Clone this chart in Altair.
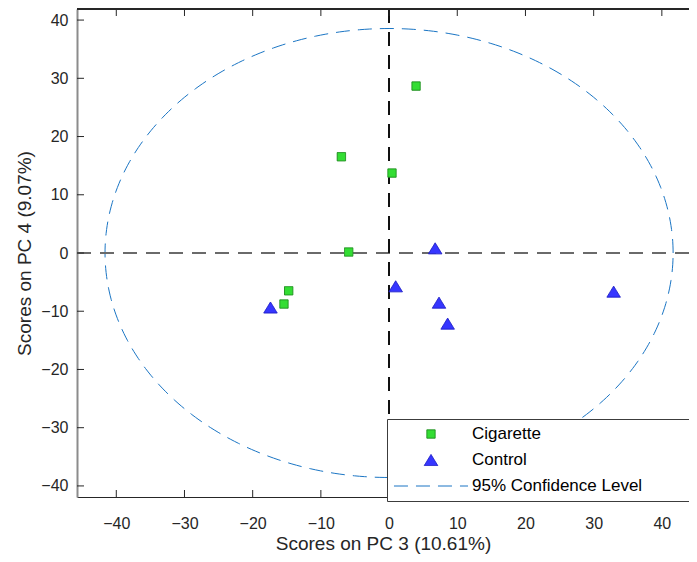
import altair as alt
import numpy as np
import pandas as pd

# ---------------- data ----------------
series_names = ["Cigarette", "Control", "95% Confidence Level"]
cig_pc3 = [3.96, -6.99, 0.43, -5.92, -14.72, -15.41]
cig_pc4 = [28.67, 16.53, 13.73, 0.17, -6.49, -8.76]
ctl_pc3 = [-17.39, 0.97, 6.76, 7.32, 8.59, 32.93]
ctl_pc4 = [-9.36, -5.72, 0.80, -8.53, -12.13, -6.64]
ci_semi_pc3 = 41.65   # semi-axis of the 95% confidence ellipse along PC 3
ci_semi_pc4 = 38.55   # semi-axis along PC 4
tick_values = [-40, -30, -20, -10, 0, 10, 20, 30, 40]
x_title = "Scores on PC 3 (10.61%)"
y_title = "Scores on PC 4 (9.07%)"

# ---------------- layout / style ----------------
W, H = 612, 488
FONT = "Liberation Sans"
TXT = "#262626"
ELL_COLOR = "#1a75c4"

pts = pd.DataFrame({
    "pc3": cig_pc3 + ctl_pc3,
    "pc4": cig_pc4 + ctl_pc4,
    "series": ["Cigarette"] * len(cig_pc3) + ["Control"] * len(ctl_pc3),
})
theta = np.linspace(0, 2 * np.pi, 361)
ell = pd.DataFrame({
    "i": np.arange(len(theta)),
    "pc3": ci_semi_pc3 * np.cos(theta),
    "pc4": ci_semi_pc4 * np.sin(theta),
})
ticks_df = pd.DataFrame({"t": tick_values})

xscale = alt.Scale(domain=[-45.76, 43.98], nice=False, zero=False)
yscale = alt.Scale(domain=[-41.9, 41.9], nice=False, zero=False)

tri_path = "M0,-1.32L1.61,1.32L-1.61,1.32Z"
line_path = "M-8.85,0L8.85,0"

legend = alt.Legend(
    orient="none", legendX=310, legendY=410, direction="vertical",
    # an invisible zero-width title on the right only widens the legend box,
    # as the reference's box runs on past the right edge of the figure
    title="\u200b", titleOrient="right", titlePadding=70, titleColor="transparent",
    padding=6, fillColor="white", strokeColor="#3c3c3c",
    symbolSize=70, symbolStrokeWidth=1, symbolOffset=29.5, labelOffset=32.5,
    clipHeight=18, rowPadding=8,
    labelFont=FONT, labelFontSize=17, labelColor="black", labelLimit=500,
    zindex=5,
)

fill_scale = alt.Scale(domain=series_names, range=["#33dd33", "#3636ff", "transparent"])
stroke_scale = alt.Scale(domain=series_names, range=["#1f8f1f", "#1e1ec8", ELL_COLOR])
shape_scale = alt.Scale(domain=series_names, range=["square", tri_path, line_path])
dash_scale = alt.Scale(domain=series_names, range=[[1, 0], [1, 0], [14, 8]])

x_axis = alt.Axis(
    values=tick_values, title=x_title, ticks=False, tickSize=0, grid=False,
    labelPadding=18, domainColor=TXT, domainWidth=1,
    titleY=52, titleBaseline="alphabetic", zindex=0,
)
y_axis = alt.Axis(
    values=tick_values, title=y_title, ticks=False, tickSize=0, grid=False,
    labelPadding=9, domainColor="#8c8c8c", domainWidth=2,
    titleX=-47, titleY=H / 2, titleBaseline="alphabetic", titleAngle=270, zindex=0,
)

ellipse = alt.Chart(ell).mark_line(
    color=ELL_COLOR, strokeWidth=1, strokeDash=[14, 8]
).encode(
    x=alt.X("pc3:Q", scale=xscale, axis=x_axis),
    y=alt.Y("pc4:Q", scale=yscale, axis=y_axis),
    order="i:Q",
)

hzero = alt.Chart(ticks_df).mark_rule(color="#6a6a6a", strokeWidth=1.2, strokeDash=[14, 9]).encode(
    y=alt.YDatum(0, scale=yscale, axis=y_axis)
)
vzero = alt.Chart(ticks_df).mark_rule(color="#111111", strokeWidth=1, strokeDash=[14, 9]).encode(
    x=alt.XDatum(0, scale=xscale, axis=x_axis)
)

bottom_ticks = alt.Chart(ticks_df).mark_rule(color=TXT).encode(
    x=alt.X("t:Q", scale=xscale, axis=x_axis), y=alt.value(H), y2=alt.value(H - 7)
)
top_ticks = alt.Chart(ticks_df).mark_rule(color=TXT).encode(
    x=alt.X("t:Q", scale=xscale, axis=x_axis), y=alt.value(0), y2=alt.value(7)
)
left_ticks = alt.Chart(ticks_df).mark_rule(color=TXT).encode(
    y=alt.Y("t:Q", scale=yscale, axis=y_axis), x=alt.value(0), x2=alt.value(7)
)
top_border = alt.Chart(ticks_df).mark_rule(color=TXT).encode(
    x=alt.value(0), x2=alt.value(W), y=alt.value(0)
)

points = alt.Chart(pts).mark_point(filled=True, size=70, strokeWidth=1, opacity=1).encode(
    x=alt.X("pc3:Q", scale=xscale, axis=x_axis),
    y=alt.Y("pc4:Q", scale=yscale, axis=y_axis),
    fill=alt.Fill("series:N", scale=fill_scale, legend=legend),
    stroke=alt.Stroke("series:N", scale=stroke_scale, legend=legend),
    shape=alt.Shape("series:N", scale=shape_scale, legend=legend),
    strokeDash=alt.StrokeDash("series:N", scale=dash_scale, legend=legend),
)

chart = alt.layer(
    ellipse, hzero, vzero, bottom_ticks, top_ticks, left_ticks, top_border, points
).properties(
    width=W, height=H,
    autosize=alt.AutoSizeParams(type="none"),
    padding={"left": 69, "top": 1, "right": 0, "bottom": 57},
    background="white",
).configure_view(
    stroke=None
).configure_axis(
    labelFont=FONT, labelFontSize=16, labelColor=TXT,
    titleFont=FONT, titleFontSize=19, titleColor=TXT, titleFontWeight="normal",
)

chart.save("out.html", embed_options={"renderer": "svg", "actions": False})
